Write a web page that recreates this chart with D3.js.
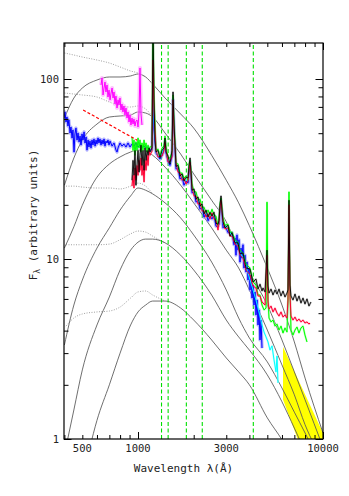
<!DOCTYPE html>
<html><head><meta charset="utf-8">
<script src="https://cdn.jsdelivr.net/npm/d3@7"></script>
<style>body{margin:0;background:#fff}</style>
</head><body>
<svg id="c" width="349" height="496"></svg>
<script>
// ---------------- DATA ----------------
const xTickLabels = [500, 1000, 3000, 10000];
const yTickLabels = [1, 10, 100];
const xLabel = "Wavelength λ(Å)";
const yLabelMain = "F";
const yLabelSub = "λ";
const yLabelRest = " (arbitrary units)";

// model spectra (solid grey) sampled on a common wavelength grid
const modelWave = [400,450,500,600,700,800,912,1000,1100,1200,1400,1700,2000,2500,3000,3500,4000,5000,6000,7000,8000,10000];
const model1 = [60.7,78.4,89.1,98.7,102.6,102.6,104,106.6,102.6,93.8,78.4,63.9,53.4,37.7,27.4,20.5,15.3,8.91,5.55,3.46,2.18,1.08];
const model2 = [25.7,36.4,45.8,56.2,61.5,62.3,63.1,65.6,64.7,61.5,50.1,38.3,29.7,21.2,16.1,11.2,8.47,5.55,3.55,2.36,1.65,0.90];
const model3 = [11.5,15.1,19.9,28.5,33.7,36.9,39.3,40.3,39.8,37.7,32.4,25.7,20.5,14.9,11.2,8.91,6.73,4.03,2.58,1.76,1.20,0.76];
const model4 = [3.33,5.55,7.64,11.5,14.9,18.7,22.4,24.8,24.1,23.0,20.5,16.9,13.6,9.62,6.73,4.70,3.64,2.68,1.92,1.41,1.08,0.67];
const model5 = [0.82,1.45,2.42,4.30,6.15,8.69,11.2,12.4,12.9,12.9,12.3,10.5,8.69,6.31,4.58,3.69,3.12,2.27,1.61,1.15,0.85,0.52];
const model6 = [0.21,0.36,0.59,1.27,2.00,3.00,4.30,5.08,5.55,5.84,5.84,5.34,4.58,3.55,2.82,2.36,2.00,1.31,0.99,0.75,0.59,0.36];

// dotted model variants
const dot1Wave = [400,450,500,600,700,800,912,1000,1100];
const dot1 = [139.5,135.9,132.5,127.5,122.7,116.6,110.8,108.0,102.6];
const dot2Wave = [400,450,500,600,700,800,912,1000,1100,1200];
const dot2 = [83.6,82.5,81.5,79.4,74.5,70.8,69.9,70.8,68.1,61.5];
const dot3Wave = [408,450,500,600,700,800,912,1000,1100,1200];
const dot3 = [25.4,25.4,25.1,24.8,24.8,24.5,25.4,26.4,25.4,23.0];
const dot4Wave = [408,450,500,600,700,800,912,1000,1100,1200,1400];
const dot4 = [12.0,12.0,12.0,12.0,12.1,12.8,13.8,14.3,14.1,13.4,12.3];
const dot5Wave = [408,450,500,600,700,800,912,1000,1100,1200,1400];
const dot5 = [4.24,4.70,4.95,5.08,5.14,5.41,6.07,6.56,6.64,6.31,5.84];

// optical band (yellow)
const opticalBand = [[6080,3.24],[10000,1.08],[10000,0.42],[6080,1.65]];

// power-law fit (red dashed)
const powerLaw = [[505,67.3],[990,45.7]];

// reference wavelengths (green dashed)
const refLines = [1340, 1455, 1825, 2225, 4200];

// observed spectra [wavelength (Å), flux]
const magentaSpec = [[631,92.6],[639,101.3],[647,81.5],[655,89.1],[663,96.2],[671,84.7],[680,92.6],[688,79.4],[697,86.8],[706,76.6],[715,83.6],[724,89.1],[733,78.4],[742,84.7],[751,72.6],[760,80.4],[770,69.0],[780,76.6],[789,71.7],[799,78.4],[809,67.3],[819,72.6],[829,65.6],[840,70.8],[850,63.1],[861,69.0],[872,60.7],[883,65.6],[894,57.7],[905,63.1],[916,55.5],[928,60.7],[940,56.2],[951,59.9],[963,54.8],[975,58.4],[988,59.2],[1000,54.1],[1013,65.6],[1025,115.1],[1038,63.9],[1051,55.5]];

const blueSpec = [[398,60.7],[403,65.6],[408,57.7],[413,61.5],[418,54.8],[423,59.2],[429,50.1],[434,54.1],[440,47.0],[445,52.1],[451,39.3],[456,49.5],[462,53.4],[468,45.8],[474,50.1],[480,44.7],[486,48.2],[492,43.0],[498,49.5],[504,45.8],[511,50.8],[517,44.1],[524,47.6],[530,40.3],[537,45.8],[543,41.9],[550,45.2],[557,41.4],[564,45.8],[571,43.0],[578,46.4],[586,42.4],[593,45.8],[600,43.5],[608,47.0],[615,44.1],[623,46.4],[631,43.0],[639,45.8],[647,43.5],[655,46.4],[663,42.4],[671,45.2],[680,44.1],[688,45.8],[697,43.0],[706,45.2],[724,42.4],[742,44.1],[760,40.3],[770,39.3],[780,41.4],[799,44.1],[819,42.4],[840,43.5],[861,41.9],[883,44.1],[905,41.9],[928,43.5],[951,42.4],[975,44.1],[1000,41.9],[1025,43.0],[1051,41.4],[1078,42.4],[1105,41.4],[1133,41.9],[1161,40.3],[1190,40.3],[1205,76.6],[1220,52.1],[1251,38.8],[1283,37.3],[1315,35.9],[1348,37.7],[1382,40.8],[1399,44.7],[1417,38.8],[1453,35.0],[1489,33.1],[1527,37.7],[1546,76.6],[1566,52.1],[1605,31.6],[1645,32.0],[1687,27.8],[1730,28.5],[1773,25.7],[1818,27.1],[1864,26.4],[1887,30.4],[1911,32.7],[1935,28.9],[1959,23.3],[2009,23.6],[2059,20.7],[2111,21.2],[2165,18.9],[2219,19.4],[2275,17.1],[2333,18.0],[2392,16.3],[2450,17.3],[2512,16.7],[2575,17.5],[2640,15.2],[2707,15.2],[2741,15.6],[2775,18.7],[2810,20.5],[2845,17.8],[2881,14.9],[2953,15.4],[3066,14.0],[3143,14.0],[3222,14.0],[3303,12.0],[3345,13.1],[3386,10.5],[3428,13.6],[3472,11.2],[3515,12.8],[3559,9.62],[3604,11.5],[3649,10.1],[3694,12.0],[3741,8.91],[3788,10.5],[3835,8.47],[3884,9.62],[3932,7.64],[3981,8.91],[4031,6.73],[4081,8.15],[4133,6.07],[4184,7.17],[4236,5.55],[4291,6.56],[4343,4.89],[4399,5.92],[4453,4.30],[4509,5.21],[4565,3.55],[4623,4.58],[4680,3.20]];

const cyanSpec = [[1161,39.3],[1190,40.1],[1205,112.2],[1220,59.2],[1251,39.3],[1283,37.7],[1315,36.4],[1348,38.8],[1382,41.9],[1399,45.8],[1417,39.8],[1453,35.9],[1489,34.1],[1527,38.8],[1546,78.4],[1566,53.4],[1605,33.7],[1645,31.6],[1687,29.7],[1730,28.2],[1773,27.8],[1818,27.1],[1864,28.5],[1887,32.0],[1911,35.3],[1935,29.7],[1959,24.5],[2009,23.3],[2059,22.1],[2111,21.0],[2165,20.2],[2219,19.2],[2275,18.2],[2333,17.8],[2392,17.5],[2450,17.3],[2512,17.8],[2575,17.3],[2640,16.3],[2707,15.1],[2741,16.3],[2775,19.4],[2810,21.5],[2845,18.5],[2881,15.8],[2953,15.2],[3066,14.7],[3143,14.0],[3222,13.2],[3345,12.6],[3472,11.7],[3559,10.9],[3694,10.1],[3835,9.15],[4031,7.64],[4184,6.73],[4343,5.92],[4453,5.34],[4565,4.82],[4680,4.30],[4799,3.93],[4920,3.69],[5043,3.46],[5170,3.12],[5301,3.29],[5435,2.75],[5571,2.36],[5641,2.89],[5711,2.05]];

const greenSpec = [[928,47.6],[940,40.1],[951,45.8],[963,37.7],[975,44.7],[988,40.1],[1000,47.0],[1013,41.4],[1025,45.8],[1038,39.3],[1051,44.1],[1064,40.1],[1078,45.8],[1091,41.4],[1105,44.1],[1119,39.3],[1133,42.9],[1147,40.1],[1161,41.9],[1190,42.4],[1205,212.8],[1220,81.5],[1251,40.1],[1283,40.8],[1315,37.3],[1348,41.4],[1382,42.4],[1399,48.2],[1417,42.4],[1453,36.4],[1489,36.4],[1527,39.3],[1546,81.5],[1566,57.7],[1605,34.1],[1645,33.7],[1687,30.0],[1730,30.0],[1773,28.2],[1818,28.9],[1864,27.4],[1887,33.7],[1911,35.3],[1935,31.1],[1959,26.1],[2009,23.6],[2059,23.6],[2111,21.2],[2165,21.5],[2219,19.4],[2275,19.4],[2333,18.0],[2392,18.7],[2450,17.5],[2512,18.9],[2575,17.5],[2640,17.3],[2707,15.2],[2741,16.9],[2775,20.2],[2810,21.8],[2845,19.2],[2881,16.9],[2953,15.4],[3066,15.6],[3143,14.1],[3222,14.1],[3345,12.8],[3472,12.4],[3559,11.2],[3694,10.8],[3835,9.38],[4031,8.91],[4184,7.45],[4343,7.17],[4453,6.31],[4565,6.31],[4680,5.55],[4799,5.21],[4920,5.34],[4982,20.7],[5043,5.92],[5108,4.70],[5236,4.47],[5368,4.58],[5503,4.24],[5641,4.35],[5783,4.03],[5929,4.24],[6078,3.88],[6231,4.14],[6388,3.93],[6468,5.92],[6549,23.6],[6630,6.73],[6714,4.03],[6883,3.78],[7056,4.03],[7234,4.19],[7416,3.88],[7603,4.14],[7794,4.24],[7990,3.78],[8191,3.46]];

const redSpec = [[928,25.4],[940,29.2],[951,24.8],[963,32.0],[975,27.4],[988,33.1],[1000,29.2],[1013,35.3],[1025,31.1],[1038,36.4],[1051,29.2],[1064,33.1],[1078,26.8],[1091,35.3],[1105,31.1],[1119,37.7],[1133,33.1],[1147,40.1],[1161,37.7],[1190,39.8],[1205,127.5],[1220,67.3],[1251,40.1],[1283,36.9],[1315,37.3],[1348,37.3],[1382,40.1],[1399,44.7],[1417,40.1],[1453,34.6],[1489,34.6],[1527,36.9],[1546,76.6],[1566,52.1],[1605,34.1],[1645,30.4],[1687,30.0],[1730,27.4],[1773,28.2],[1818,26.1],[1864,27.4],[1887,31.1],[1911,34.6],[1935,29.2],[1959,24.8],[2009,22.4],[2059,22.4],[2111,20.2],[2165,20.5],[2219,18.5],[2275,18.5],[2333,17.1],[2392,17.8],[2450,16.7],[2512,18.0],[2575,16.7],[2640,16.4],[2707,14.5],[2741,16.1],[2775,19.2],[2810,21.2],[2845,18.2],[2881,16.1],[2953,14.7],[3066,14.9],[3143,13.4],[3222,13.4],[3345,12.1],[3472,11.8],[3559,10.5],[3694,10.1],[3835,8.69],[4031,8.15],[4184,7.08],[4343,6.90],[4453,6.23],[4565,6.23],[4680,5.77],[4860,5.55],[4982,10.5],[5043,5.77],[5108,5.27],[5236,5.48],[5368,5.08],[5503,5.34],[5641,5.01],[5783,4.82],[5929,5.08],[6078,4.76],[6231,4.89],[6388,4.70],[6468,5.92],[6549,20.0],[6630,6.31],[6714,4.82],[6883,4.58],[7056,4.76],[7234,4.52],[7416,4.64],[7603,4.47],[7794,4.58],[7990,4.41],[8191,4.47],[8398,4.35],[8505,4.41]];

const blackSpec = [[928,27.4],[940,35.3],[951,29.2],[963,40.1],[975,25.7],[988,33.1],[1000,40.1],[1013,30.4],[1025,37.7],[1038,42.9],[1051,33.1],[1064,40.1],[1078,31.1],[1091,41.4],[1105,35.3],[1119,40.1],[1133,37.7],[1147,41.4],[1161,39.3],[1190,41.4],[1205,212.8],[1220,76.6],[1235,45.8],[1251,39.3],[1283,40.1],[1315,36.4],[1348,40.1],[1382,41.4],[1399,47.0],[1417,39.3],[1453,37.3],[1489,33.7],[1527,40.1],[1546,84.7],[1566,55.5],[1605,32.7],[1645,33.1],[1687,28.9],[1730,29.7],[1773,27.1],[1818,28.5],[1864,28.2],[1887,32.7],[1911,36.4],[1935,30.4],[1959,24.1],[2009,24.5],[2059,21.5],[2111,22.1],[2165,19.7],[2219,20.2],[2275,17.8],[2333,18.7],[2392,17.1],[2450,18.2],[2512,17.3],[2575,18.2],[2640,15.8],[2707,15.6],[2741,16.4],[2775,19.9],[2810,22.4],[2845,18.7],[2881,16.1],[2953,14.9],[3066,15.4],[3143,13.4],[3222,14.0],[3345,12.3],[3472,12.3],[3559,10.7],[3694,10.8],[3835,8.91],[4031,8.80],[4184,7.45],[4343,7.74],[4453,6.81],[4565,7.25],[4680,6.64],[4739,6.90],[4860,6.56],[4982,11.2],[5043,7.08],[5108,6.47],[5236,6.81],[5368,6.31],[5503,6.73],[5641,6.39],[5783,6.81],[5929,6.23],[6078,6.64],[6231,6.15],[6388,6.47],[6468,6.73],[6549,21.2],[6630,7.17],[6714,6.23],[6883,5.92],[7056,6.39],[7234,5.84],[7416,6.23],[7603,5.69],[7794,6.07],[7990,5.62],[8191,6.0],[8398,5.48],[8609,5.77]];

// ---------------- CHART ----------------
const svg = d3.select('#c');
const x = d3.scaleLog().domain([398, 10000]).range([64, 323]);
const y = d3.scaleLog().domain([1, 158.5]).range([439, 43]);

svg.append('defs').append('clipPath').attr('id','clip')
  .append('rect').attr('x', x.range()[0]).attr('y', y.range()[1])
  .attr('width', x.range()[1]-x.range()[0]).attr('height', y.range()[0]-y.range()[1]);

const plot = svg.append('g').attr('clip-path','url(#clip)');
const line = d3.line().x(d => x(d[0])).y(d => y(d[1]));
const smooth = d3.line().x(d => x(d[0])).y(d => y(d[1])).curve(d3.curveMonotoneX);
const zip = (w, v) => w.map((ww, i) => [ww, v[i]]);

// yellow optical band
plot.append('path').datum(opticalBand)
  .attr('d', d3.line().x(d=>x(d[0])).y(d=>y(d[1])).curve(d3.curveLinearClosed))
  .attr('fill','#ffff00').attr('stroke','none');

// dotted model variants
[[dot1Wave,dot1],[dot2Wave,dot2],[dot3Wave,dot3],[dot4Wave,dot4],[dot5Wave,dot5]].forEach(([w,v]) => {
  plot.append('path').datum(zip(w,v)).attr('d', smooth)
    .attr('fill','none').attr('stroke','#a0a0a0').attr('stroke-width',1)
    .attr('stroke-dasharray','1,1.5');
});
// solid models
[model1,model2,model3,model4,model5,model6].forEach(v => {
  plot.append('path').datum(zip(modelWave,v)).attr('d', smooth)
    .attr('fill','none').attr('stroke','#555').attr('stroke-width',0.85);
});

// reference dashed lines
refLines.forEach(w => {
  plot.append('line').attr('x1', x(w)).attr('x2', x(w)).attr('y1', y.range()[0]).attr('y2', y.range()[1])
    .attr('stroke','#00e000').attr('stroke-width',1.1).attr('stroke-dasharray','4,2.5');
});

// spectra
const spectra = [
  {d: magentaSpec, c:'#ff00ff', e:'#ff9cff', o:1, w:4},
  {d: blueSpec, c:'#0000ff', e:'#7a7aff', o:1, w:3.2},
  {d: cyanSpec, c:'#00ffff', e:'#a0ffff', o:1, w:2},
  {d: greenSpec, c:'#00ff00', e:'#90ff90', o:1, w:2},
  {d: redSpec, c:'#ff0033', e:'#ff90a8', o:1, w:2},
  {d: blackSpec, c:'#000000', e:'#a0a0a0', o:0.85, w:2}
];
spectra.forEach(s => {
  plot.append('path').datum(s.d).attr('d', line).attr('fill','none')
    .attr('stroke', s.e).attr('stroke-width', s.w).attr('stroke-linejoin','round').attr('opacity',0.6);
});
spectra.forEach(s => {
  plot.append('path').datum(s.d).attr('d', line).attr('fill','none')
    .attr('stroke', s.c).attr('stroke-width', 1).attr('opacity', s.o);
});

// power-law
plot.append('path').datum(powerLaw).attr('d', line).attr('fill','none')
  .attr('stroke','#ff0000').attr('stroke-width',1.2).attr('stroke-dasharray','3,2');

// ---------------- AXES ----------------
const xMinor = [400,500,600,700,800,900,2000,3000,4000,5000,6000,7000,8000,9000];
const xMajor = [1000, 10000];
const yMinor = [2,3,4,5,6,7,8,9,20,30,40,50,60,70,80,90];
const yMajor = [1, 10, 100];

function ax(gen, scale, vals, len, tx, ty) {
  const g = svg.append('g').attr('transform', `translate(${tx},${ty})`)
    .call(gen(scale).tickValues(vals).tickSize(-len).tickFormat(''));
  g.select('.domain').remove();
  g.selectAll('line').attr('stroke','#000').attr('stroke-width',1);
}
const [L, R] = x.range(), [B, T] = y.range();
ax(d3.axisBottom, x, xMinor, 4, 0, B); ax(d3.axisBottom, x, xMajor, 7, 0, B);
ax(d3.axisTop, x, xMinor, 4, 0, T); ax(d3.axisTop, x, xMajor, 7, 0, T);
ax(d3.axisLeft, y, yMinor, 4.5, L, 0); ax(d3.axisLeft, y, yMajor, 7.5, L, 0);
ax(d3.axisRight, y, yMinor, 4.5, R, 0); ax(d3.axisRight, y, yMajor, 7.5, R, 0);

svg.append('rect').attr('x', L).attr('y', T).attr('width', R-L).attr('height', B-T)
  .attr('fill','none').attr('stroke','#000').attr('stroke-width',1.2);

const font = "'DejaVu Sans Mono', monospace";
svg.append('g').selectAll('text').data(xTickLabels).join('text')
  .attr('x', d => x(d)).attr('y', B + 13).attr('text-anchor','middle')
  .attr('font-family', font).attr('font-size', 10.5).attr('fill','#222').text(d => d);
svg.append('g').selectAll('text').data(yTickLabels).join('text')
  .attr('x', L - 5).attr('y', d => y(d) + 4).attr('text-anchor','end')
  .attr('font-family', font).attr('font-size', 10.5).attr('fill','#222').text(d => d);

svg.append('text').attr('x', (L+R)/2 - 10).attr('y', B + 33).attr('text-anchor','middle')
  .attr('font-family', font).attr('font-size', 11).attr('fill','#222').text(xLabel);

const yl = svg.append('text').attr('transform', `translate(37,215) rotate(-90)`)
  .attr('text-anchor','middle').attr('font-family', font).attr('font-size', 11).attr('fill','#222');
yl.append('tspan').text(yLabelMain);
yl.append('tspan').attr('font-size', 8).attr('dy', 3).text(yLabelSub);
yl.append('tspan').attr('dy', -3).text(yLabelRest);
</script>
</body></html>
